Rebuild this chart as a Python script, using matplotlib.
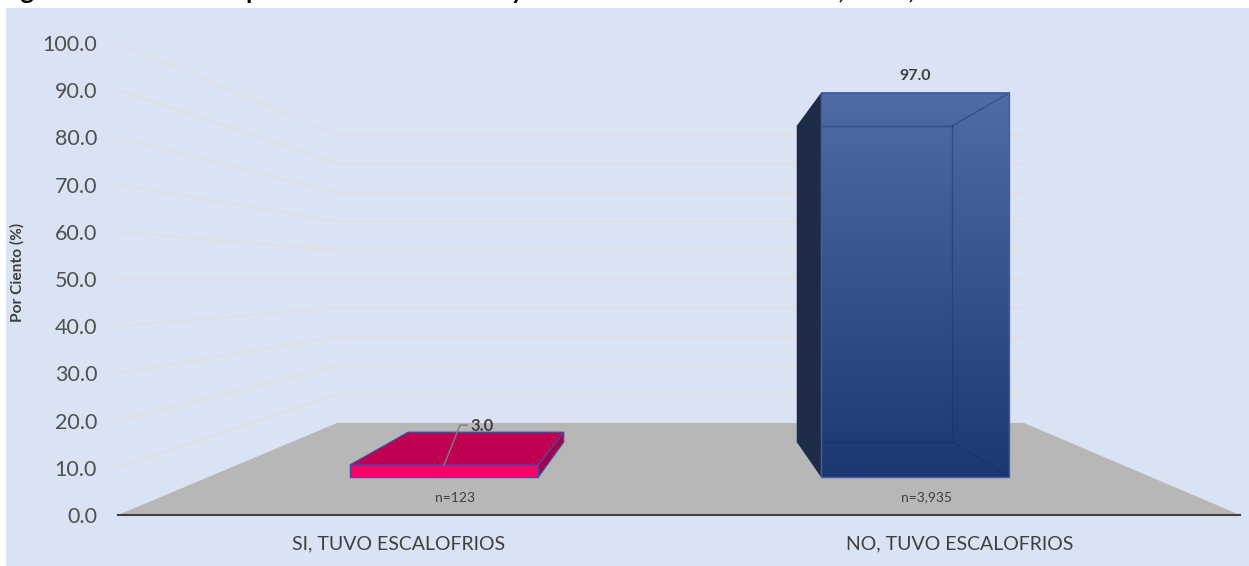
import matplotlib
matplotlib.use("Agg")
import matplotlib.pyplot as plt
from matplotlib.patches import Polygon, Rectangle
from matplotlib.colors import LinearSegmentedColormap
import numpy as np

plt.rcParams['font.family'] = ['Lato', 'DejaVu Sans']

categories = ["SI, TUVO ESCALOFRIOS", "NO, TUVO ESCALOFRIOS"]
values = [3.0, 97.0]
counts = ["n=123", "n=3,935"]
y_ticks = [0, 10, 20, 30, 40, 50, 60, 70, 80, 90, 100]
title = "Figura 4. Distribución porcentual de los casos y escalofríos en muestra total, 2020, 2021"

W, H = 1249, 566
fig = plt.figure(figsize=(W / 100, H / 100), dpi=100, facecolor="white")
fig.patches.append(Rectangle((5.5 / W, 0), 1 - 5.5 / W, 1 - 8 / H, transform=fig.transFigure,
                             facecolor="#DAE3F3", edgecolor="none", zorder=-10))
L, R, Y0, YT = 118, 1240, 515, 43
ax = fig.add_axes([L / W, 1 - Y0 / H, (R - L) / W, (Y0 - YT) / H])
ax.patch.set_alpha(0)

BL, BR, BY = 337, 1024, 423   # back wall of the 3D box
PX_X = 1 / (R - L)
PX_Y = 100 / (Y0 - YT)
def proj(u, v, d):
    """u across, v value, d depth (0 front, 1 back) -> axes data coordinates."""
    left = L + (BL - L) * d
    right = R + (BR - R) * d
    x = left + u * (right - left)
    y0 = Y0 + (BY - Y0) * d
    scale = (Y0 - YT) / 100 * (1 - 0.39 * d)
    y = y0 - scale * v
    return (x - L) * PX_X, (Y0 - y) * PX_Y

def poly(points, **kw):
    ax.add_patch(Polygon(points, closed=True, clip_on=False, **kw))

# walls grid
for t in y_ticks[1:]:
    a, b, c = proj(0, t, 0), proj(0, t, 1), proj(1, t, 1)
    ax.plot([a[0], b[0], c[0]], [a[1], b[1], c[1]], color="#E2DDD8", lw=1,
            clip_on=False, zorder=1)

# floor
poly([proj(0, 0, 0), proj(1, 0, 0), proj(1, 0, 1), proj(0, 0, 1)],
     facecolor="#B7B7B7", edgecolor="none", zorder=2)

D0, D1 = 0.413, 0.793
HALF = 0.10
centers = [0.25, 0.75]

# pink bar
u0, u1, v = centers[0] - HALF, centers[0] + HALF, values[0]
edge = "#4A4A9A"
poly([proj(u0, v, D0), proj(u1, v, D0), proj(u1, v, D1), proj(u0, v, D1)],
     facecolor="#C00050", edgecolor=edge, lw=1, zorder=3)
poly([proj(u1, 0, D0), proj(u1, 0, D1), proj(u1, v, D1), proj(u1, v, D0)],
     facecolor="#A80048", edgecolor=edge, lw=1, zorder=3)
poly([proj(u0, 0, D0), proj(u1, 0, D0), proj(u1, v, D0), proj(u0, v, D0)],
     facecolor="#FF0066", edgecolor=edge, lw=1, zorder=3)

# blue bar: translucent box with gradient front
u0, u1, v = centers[1] - HALF, centers[1] + HALF, values[1]
poly([proj(u0, 0, D1), proj(u0, 0, D0), proj(u0, v, D0), proj(u0, v, D1)],
     facecolor="#1F2C48", edgecolor="none", zorder=3)
fx0, fy0 = proj(u0, v, D0)
fx1, _ = proj(u1, v, D0)
_, fyb = proj(u0, 0, D0)
grad = np.linspace(0, 1, 256).reshape(-1, 1)
cmap = LinearSegmentedColormap.from_list("b", ["#4F6CA6", "#1C3872"])
ax.imshow(grad, cmap=cmap, extent=[fx0, fx1, fyb, fy0], aspect="auto", zorder=4, clip_on=False)
ax.set_xlim(0, 1)
ax.set_ylim(0, 100)
for a, b in [((u0, v, D1), (u1, v, D1)), ((u1, v, D1), (u1, 0, D1)), ((u0, 0, D1), (u1, 0, D1)),
             ((u1, v, D1), (u1, v, D0)), ((u1, 0, D1), (u1, 0, D0))]:
    pa, pb = proj(*a), proj(*b)
    ax.plot([pa[0], pb[0]], [pa[1], pb[1]], color="#0F2C66", alpha=0.4, lw=1, zorder=5, clip_on=False)
ax.add_patch(Rectangle((fx0, fyb), fx1 - fx0, fy0 - fyb, fill=False, edgecolor="#3F5F9E", lw=1,
                       zorder=5, clip_on=False))

# labels
top = proj(centers[0], values[0], D0)
ax.plot([top[0], top[0] + 16 * PX_X, top[0] + 23 * PX_X],
        [top[1], top[1] + 40 * PX_Y, top[1] + 40 * PX_Y],
        color="#7F7F7F", lw=1, zorder=6, clip_on=False)
ax.text(top[0] + 26 * PX_X, top[1] + 39 * PX_Y, f"{values[0]:.1f}", fontsize=12, fontweight="bold",
        color="#404040", va="center", ha="left", zorder=7)
tx, ty = proj(centers[1], values[1], (D0 + D1) / 2)
ax.text(tx + 20 * PX_X, ty + 33 * PX_Y, f"{values[1]:.1f}", fontsize=11.5, fontweight="bold",
        color="#404040", va="center", ha="center", zorder=7)
for c, n in zip(centers, counts):
    x, y = proj(c, 0, D0)
    ax.text(x + 11 * PX_X, y - 20.5 * PX_Y, n, fontsize=10, color="#404040", va="center", ha="center", zorder=7)

# axes
for s in ["top", "right", "left"]:
    ax.spines[s].set_visible(False)
ax.spines["bottom"].set_color("#404040")
ax.spines["bottom"].set_linewidth(1.5)
ax.spines["bottom"].set_zorder(6)
ax.set_yticks(y_ticks)
ax.set_yticklabels([f"{t:.1f}" for t in y_ticks], fontsize=15.5, color="#505050")
ax.set_xticks(centers)
ax.set_xticklabels(categories, fontsize=14, color="#404040")
ax.tick_params(axis="both", length=0)
ax.tick_params(axis="y", pad=15)
ax.tick_params(axis="x", pad=15)
fig.text(17 / W, 1 - 272 / H, "Por Ciento (%)", rotation=90, fontsize=11.2, fontweight="bold",
         color="#404040", ha="center", va="center")

fig.text(0, 1 + 1 / H, title, fontsize=18, fontweight="bold", color="black", ha="left", va="baseline")
fig.savefig("out.png", dpi=100, facecolor="white")
